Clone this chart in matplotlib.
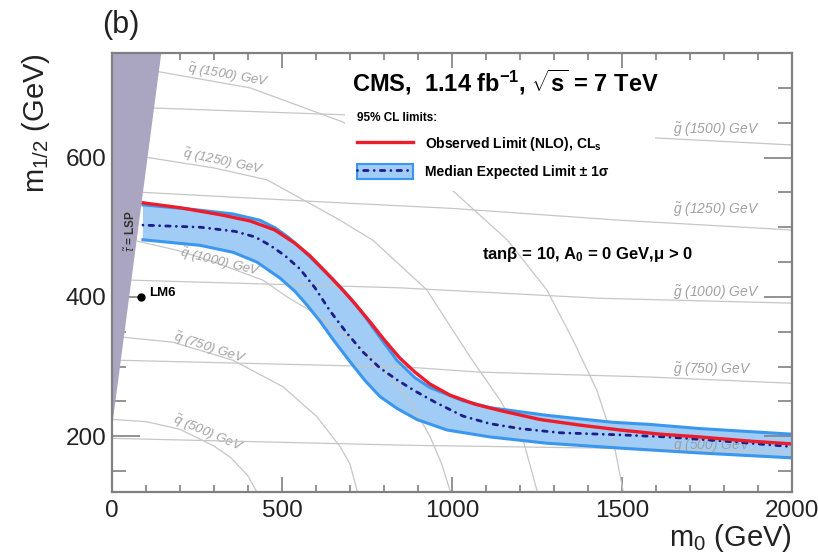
import numpy as np
import matplotlib
matplotlib.use('Agg')
import matplotlib.pyplot as plt
from matplotlib.lines import Line2D
from matplotlib.patches import Patch
from matplotlib.ticker import MultipleLocator

plt.rcParams['font.family'] = ['Liberation Sans', 'DejaVu Sans']
plt.rcParams['mathtext.fontset'] = 'custom'
plt.rcParams['mathtext.rm'] = 'Liberation Sans'
plt.rcParams['mathtext.it'] = 'Liberation Sans:italic'
plt.rcParams['mathtext.bf'] = 'Liberation Sans:bold'

# 95% CL exclusion contours in the (m0, m1/2) plane
obs_m0 = [91, 200, 318, 406, 479, 538, 582, 626, 671, 715, 759, 803, 847, 891, 935, 994,
          1068, 1141, 1259, 1376, 1494, 1612, 1729, 1876, 2000]
obs_m12 = [535, 528, 518, 509, 496, 477, 459, 437, 414, 390, 364, 337, 312, 292, 275, 259,
           246, 237, 224, 216, 209, 203, 199, 193, 189]

exp_m0 = [91, 259, 362, 421, 465, 509, 553, 597, 641, 691, 738, 788, 838, 891, 950, 1032,
          1112, 1200, 1318, 1494, 1632, 1826, 2000]
exp_m12 = [503, 500, 494, 486, 474, 459, 440, 413, 380, 348, 321, 298, 281, 265, 249, 229,
           218, 211, 205, 202, 199, 192, 185]

up_m0 = [91, 229, 356, 435, 480, 520, 560, 600, 650, 700, 744, 788, 838, 891, 935, 1032,
         1112, 1279, 1474, 1582, 1729, 2000]
up_m12 = [532, 526, 519, 510, 499, 485, 468, 449, 425, 399, 372, 342, 309, 284, 270, 251,
          241, 230, 220, 217, 211, 203]

lo_m0 = [91, 259, 356, 426, 494, 538, 574, 612, 650, 700, 744, 788, 838, 897, 985, 1112,
         1279, 1494, 1729, 2000]
lo_m12 = [482, 474, 464, 450, 427, 408, 388, 365, 339, 307, 280, 257, 240, 224, 209, 199,
          190, 183, 176, 169]

# iso-mass curves for squarks and gluinos
squark_masses = [500, 750, 1000, 1250, 1500]
squark_m0 = [
    [5, 100, 200, 300, 350, 400, 426],
    [36, 179, 356, 503, 603, 671, 700, 722],
    [74, 191, 300, 444, 515, 600, 700, 800, 870, 935, 970, 994],
    [106, 300, 456, 671, 768, 926, 1053, 1141, 1209, 1250],
    [139, 406, 679, 994, 1162, 1279, 1356, 1426, 1474, 1503],
]
squark_m12 = [
    [224, 221, 210, 186, 169, 143, 120],
    [342, 335, 309, 271, 228, 185, 160, 120],
    [480, 467, 450, 424, 400, 375, 340, 295, 255, 200, 160, 122],
    [600, 585, 568, 510, 481, 410, 314, 252, 195, 122],
    [723, 700, 651, 556, 482, 410, 338, 266, 195, 122],
]
squark_lbl_pos = [(282, 204), (288, 326), (318, 450), (327, 594), (341, 718)]
squark_lbl_rot = [-23, -18, -14, -12, -10]

gluino_masses = [500, 750, 1000, 1250, 1500]
gluino_m0 = [
    [0, 876, 1582, 2000],
    [26, 876, 1082, 1582, 2000],
    [57, 847, 1435, 2000],
    [91, 671, 1000, 1494, 2000],
    [124, 700, 1200, 1603, 2000],
]
gluino_m12 = [
    [197, 187, 182, 177],
    [309, 299, 292, 285, 276],
    [424, 413, 398, 391],
    [550, 535, 527, 510, 496],
    [671, 661, 645, 628, 618],
]
gluino_lbl_y = [187, 296, 406, 525, 640]

# stau-LSP region and the LM6 benchmark point
lsp_m0 = [0, 145, 0]
lsp_m12 = [213, 750, 750]
lm6 = (85, 400)

band_fill = '#a0ccf6'
band_edge = '#3b97ee'
gray = '#c6c6c6'
lbl_gray = '#a0a0a0'

fig = plt.figure(figsize=(8.18, 5.57), dpi=100)
ax = fig.add_axes([112 / 818, 1 - 492 / 557, 680 / 818, 439 / 557])

# band first, iso-mass lines on top of its fill
ax.fill(np.concatenate([up_m0, lo_m0[::-1]]), np.concatenate([up_m12, lo_m12[::-1]]),
        color=band_fill, lw=0, zorder=1)

for xs, ys in zip(squark_m0, squark_m12):
    ax.plot(xs, ys, color=gray, lw=0.9, zorder=2)
for m, (x, y), r in zip(squark_masses, squark_lbl_pos, squark_lbl_rot):
    ax.text(x, y, r'$\tilde{q}$' + f' ({m}) GeV', rotation=r, ha='center', va='center',
            fontsize=9.5, style='italic', color=lbl_gray, zorder=2)

for xs, ys in zip(gluino_m0, gluino_m12):
    ax.plot(xs, ys, color=gray, lw=0.9, zorder=2)
for m, y in zip(gluino_masses, gluino_lbl_y):
    ax.text(1650, y, r'$\tilde{g}$' + f' ({m}) GeV', ha='left', va='center',
            fontsize=10, style='italic', color=lbl_gray, zorder=2)

ax.plot(up_m0, up_m12, color=band_edge, lw=2.2, zorder=3)
ax.plot(lo_m0, lo_m12, color=band_edge, lw=2.2, zorder=3)
ax.plot(obs_m0, obs_m12, color='#ee1c2a', lw=2.4, zorder=5)
exp_style = dict(color='#1c1c8a', lw=2.0, ls=(0, (0.01, 2.2, 1.6, 2.2)), dash_capstyle='round')
ax.plot(exp_m0, exp_m12, zorder=4, **exp_style)

ax.fill(lsp_m0, lsp_m12, color='#aaa5c0', lw=0, zorder=6)
ax.text(54, 494, r'$\tilde{\tau}$ = LSP', rotation=90, ha='center', va='center',
        fontsize=8.5, fontweight='bold', color='#333333', zorder=7)

ax.plot(*lm6, 'o', color='black', ms=5, zorder=7)
ax.text(lm6[0] + 25, lm6[1] + 5, 'LM6', fontsize=9.5, fontweight='bold', va='center', zorder=7)

ax.text(0.579, 0.934, r'CMS,  1.14 fb$^{\mathbf{-1}}$, $\sqrt{\mathbf{s}}$ = 7 TeV', transform=ax.transAxes,
        ha='center', va='center', fontsize=17, fontweight='bold', zorder=8)
ax.text(0.699, 0.540, r'tanβ = 10, A$_{\mathbf{0}}$ = 0 GeV,μ > 0', transform=ax.transAxes,
        ha='center', va='center', fontsize=12, fontweight='bold', zorder=8)

handles = [Line2D([], [], color='#ee1c2a', lw=2.4),
           (Patch(facecolor=band_fill, edgecolor=band_edge, lw=1.5), Line2D([], [], **exp_style))]
leg = ax.legend(handles, ['Observed Limit (NLO), CL$_{\\mathbf{s}}$', 'Median Expected Limit ± 1σ'],
                title='95% CL limits:', loc='upper left', mode='expand',
                bbox_to_anchor=(0.343, 0.695, 0.456, 0.198),
                frameon=True, facecolor='white', edgecolor='none', framealpha=1, fancybox=False,
                prop={'size': 10, 'weight': 'bold'}, title_fontproperties={'size': 8.5, 'weight': 'bold'},
                handlelength=4.0, handleheight=1.3, handletextpad=0.86, labelspacing=0.8,
                borderpad=0.85, borderaxespad=0, alignment='left')
leg.set_zorder(7)

ax.set_xlim(0, 2000)
ax.set_ylim(120, 750)
ax.set_xticks([0, 500, 1000, 1500, 2000])
ax.set_yticks([200, 400, 600])
ax.xaxis.set_minor_locator(MultipleLocator(100))
ax.yaxis.set_minor_locator(MultipleLocator(50))
ax.tick_params(which='both', direction='in', top=True, right=True, color='#808080', width=1.2,
               labelsize=17.5, labelcolor='#222222')
ax.tick_params(axis='x', which='major', length=11, pad=6)
ax.tick_params(axis='x', which='minor', length=5)
ax.tick_params(axis='y', which='major', length=20, pad=4)
ax.tick_params(axis='y', which='minor', length=10)
for s in ax.spines.values():
    s.set_color('#808080')
    s.set_linewidth(1.6)
    s.set_zorder(9)

ax.set_xlabel('m$_0$ (GeV)', fontsize=21, loc='right', labelpad=0, color='#222222')
ax.set_ylabel('m$_{1/2}$ (GeV)', fontsize=21, loc='top', labelpad=10, color='#222222')

fig.text(0.148, 0.955, '(b)', fontsize=22, ha='center', va='center', color='#222222')

fig.savefig('out.png', dpi=100)
